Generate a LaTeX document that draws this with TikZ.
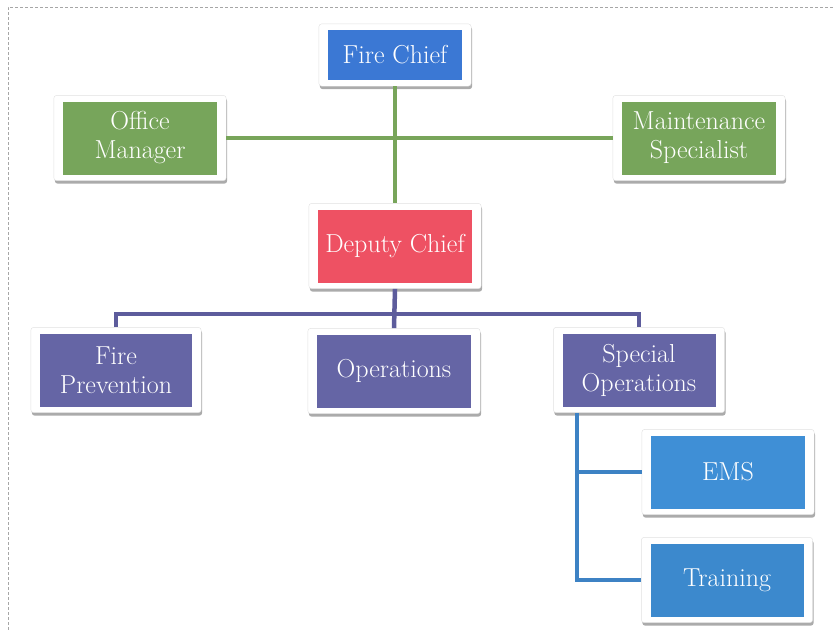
\documentclass[tikz,border=0pt]{standalone}
\usepackage{tikz}
\usetikzlibrary{fit,backgrounds,shadows}

\definecolor{chiefblue}{HTML}{3B78D4}
\definecolor{staffgreen}{HTML}{77A55B}
\definecolor{deputyred}{HTML}{EE5163}
\definecolor{divpurple}{HTML}{6565A5}
\definecolor{emsblue}{HTML}{3F8FD6}
\definecolor{linegreen}{HTML}{78A55A}
\definecolor{linepurple}{HTML}{5D5C9C}
\definecolor{lineblue}{HTML}{3D82C4}

\begin{document}
\begin{tikzpicture}[x=1pt,y=-1pt,
  unit/.style={fill=#1, text=white, inner sep=0pt, align=center,
    minimum width=154pt, minimum height=73pt,
    font=\fontsize{26}{29}\selectfont},
  frame/.style={fill=white, draw=black!12, rounded corners=3pt,
    inner xsep=9pt, inner ysep=6pt,
    drop shadow={shadow xshift=1pt, shadow yshift=-3pt, fill=black!55, opacity=.6}},
  link/.style={draw=#1, line width=4.5pt}]
\useasboundingbox (0,0) rectangle (833,632);
\draw[black!35, dash pattern=on 3pt off 2pt] (833,7) -- (8,7) -- (8,632);

% chief and staff
\node[unit=chiefblue, minimum width=134pt, minimum height=50pt] (chief) at (395,55) {Fire Chief};
\node[unit=staffgreen] (office) at (140,138) {Office\\Manager};
\node[unit=staffgreen] (maint) at (699,138) {Maintenance\\Specialist};
\node[unit=deputyred] (deputy) at (395,246) {Deputy Chief};

% divisions
\node[unit=divpurple, minimum width=152pt] (prev) at (116,370) {Fire\\Prevention};
\node[unit=divpurple] (ops) at (394,371) {Operations};
\node[unit=divpurple, minimum width=153pt] (spec) at (639,370) {Special\\Operations};
\node[unit=emsblue] (ems) at (728,472) {EMS};
\node[unit=emsblue!96!black, minimum width=153pt] (train) at (727,580) {Training};

\begin{scope}[on background layer]
\foreach \n in {chief,office,maint,deputy,prev,ops,spec,ems,train}
  \node[frame, fit=(\n)] (f\n) {};
\end{scope}

% chief line
\draw[link=linegreen] (fchief.south) -- (fdeputy.north);
\draw[link=linegreen] (foffice.east) -- (fmaint.west);

% division bus
\coordinate (bus) at (395,314);
\draw[link=linepurple] (fdeputy.south) -- (fops.north);
\draw[link=linepurple] (fprev.north) -- (fprev.north |- bus) -- (fspec.north |- bus) -- (fspec.north);

% special operations branch
\coordinate (spine) at (577,0);
\draw[link=lineblue] (fspec.south -| spine) -- (spine |- ftrain.west) -- (ftrain.west);
\draw[link=lineblue] (spine |- fems.west) -- (fems.west);
\end{tikzpicture}
\end{document}
